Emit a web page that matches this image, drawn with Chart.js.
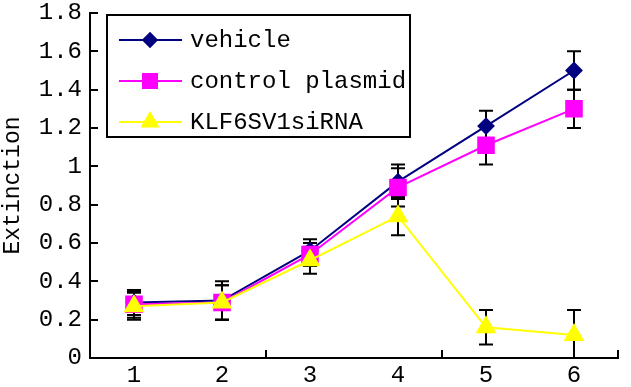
<!DOCTYPE html>
<html>
<head>
<meta charset="utf-8">
<script src="https://cdn.jsdelivr.net/npm/chart.js@4.4.1/dist/chart.umd.min.js"></script>
<style>
  html, body { margin: 0; padding: 0; background: #fff; }
  #wrap { width: 631px; height: 387px; }
</style>
</head>
<body>
<div id="wrap"><canvas id="chart"></canvas></div>
<script>
// ---- data ----
const days = ['1', '2', '3', '4', '5', '6'];

const vehicle    = [0.29, 0.30, 0.56, 0.92, 1.21, 1.50];
const vehicleErr = [0.065, 0.10, 0.06, 0.09, 0.08, 0.10];

const plasmid    = [0.28, 0.29, 0.54, 0.89, 1.11, 1.30];
const plasmidErr = [0.07, 0.09, 0.06, 0.10, 0.10, 0.10];

const sirna      = [0.27, 0.29, 0.51, 0.74, 0.16, 0.12];
const sirnaErr   = [0.07, 0.09, 0.07, 0.10, 0.09, 0.13];

const FONT = "'Liberation Mono', 'DejaVu Sans Mono', monospace";

// +/- error bars, drawn under the markers
const errorBars = {
  id: 'errorBars',
  beforeDatasetsDraw(chart) {
    const { ctx, chartArea, scales: { x, y } } = chart;
    ctx.save();
    ctx.strokeStyle = '#000';
    ctx.lineWidth = 2;
    chart.data.datasets.forEach(ds => {
      ds.errors.forEach((e, i) => {
        const px = x.getPixelForValue(i);
        const hi = ds.data[i] + e, lo = ds.data[i] - e;
        const top = Math.max(y.getPixelForValue(hi), chartArea.top);
        const bot = Math.min(y.getPixelForValue(lo), chartArea.bottom);
        ctx.beginPath();
        ctx.moveTo(px, top);
        ctx.lineTo(px, bot);
        ctx.moveTo(px - 7, top);
        ctx.lineTo(px + 7, top);
        if (lo > 0) {
          ctx.moveTo(px - 7, bot);
          ctx.lineTo(px + 7, bot);
        }
        ctx.stroke();
      });
    });
    ctx.restore();
  }
};

// inward tick marks like the original
const axisTicks = {
  id: 'axisTicks',
  afterDraw(chart) {
    const { ctx, chartArea, scales: { x, y } } = chart;
    ctx.save();
    ctx.strokeStyle = '#000';
    ctx.lineWidth = 2;
    ctx.beginPath();
    y.ticks.forEach(t => {
      const py = Math.round(y.getPixelForValue(t.value));
      ctx.moveTo(chartArea.left, py);
      ctx.lineTo(chartArea.left + 8, py);
    });
    [2, 4, 6].forEach(k => {
      const px = Math.round(x.getPixelForDecimal(k / 6));
      ctx.moveTo(px, chartArea.bottom);
      ctx.lineTo(px, chartArea.bottom - 8);
    });
    ctx.stroke();
    ctx.restore();
  }
};

// framed legend inside the plot, top left
const boxLegend = {
  id: 'boxLegend',
  afterDraw(chart) {
    const { ctx, chartArea } = chart;
    const bx = chartArea.left + 17, by = 15, bw = 303, bh = 122;
    ctx.save();
    ctx.fillStyle = '#fff';
    ctx.fillRect(bx, by, bw, bh);
    ctx.strokeStyle = '#000';
    ctx.lineWidth = 2;
    ctx.strokeRect(bx, by, bw, bh);
    ctx.font = '24px ' + FONT;
    ctx.textBaseline = 'middle';
    chart.data.datasets.forEach((ds, i) => {
      const cy = by + 25 + i * 41;
      ctx.strokeStyle = ds.borderColor;
      ctx.lineWidth = 2;
      ctx.beginPath();
      ctx.moveTo(bx + 12, cy);
      ctx.lineTo(bx + 75, cy);
      ctx.stroke();
      ctx.fillStyle = ds.pointBackgroundColor;
      ctx.strokeStyle = ds.pointBackgroundColor;
      Chart.helpers.drawPoint(ctx, {
        pointStyle: ds.pointStyle, radius: ds.pointRadius * 0.9, rotation: 0, borderWidth: 1
      }, bx + 43, cy);
      ctx.fillStyle = '#000';
      ctx.fillText(ds.label, bx + 83, cy + 1);
    });
    ctx.restore();
  }
};

new Chart(document.getElementById('chart'), {
  type: 'line',
  data: {
    labels: days,
    datasets: [
      {
        label: 'vehicle', data: vehicle, errors: vehicleErr,
        borderColor: '#000080', borderWidth: 2,
        pointStyle: 'rectRot', pointRadius: 7.5,
        pointBackgroundColor: '#000080', pointBorderColor: '#000080',
        order: 3
      },
      {
        label: 'control plasmid', data: plasmid, errors: plasmidErr,
        borderColor: '#ff00ff', borderWidth: 2,
        pointStyle: 'rect', pointRadius: 11,
        pointBackgroundColor: '#ff00ff', pointBorderColor: '#ff00ff',
        order: 2
      },
      {
        label: 'KLF6SV1siRNA', data: sirna, errors: sirnaErr,
        borderColor: '#ffff00', borderWidth: 2,
        pointStyle: 'triangle', pointRadius: 10,
        pointBackgroundColor: '#ffff00', pointBorderColor: '#ffff00',
        order: 1
      }
    ]
  },
  options: {
    responsive: true,
    maintainAspectRatio: false,
    animation: false,
    layout: { padding: { top: 0, right: 4, left: 0, bottom: 0 } },
    plugins: { legend: { display: false }, tooltip: { enabled: false } },
    scales: {
      x: {
        offset: true,
        grid: { display: false, drawTicks: false },
        border: { display: true, color: '#000', width: 2 },
        ticks: { color: '#000', font: { family: FONT, size: 24, lineHeight: 1 }, padding: 6, maxRotation: 0 },
        afterFit(s) { s.height = 29; }
      },
      y: {
        min: 0,
        max: 1.8,
        grid: { display: false, drawTicks: false },
        border: { display: true, color: '#000', width: 2 },
        ticks: {
          stepSize: 0.2, color: '#000', padding: 8,
          font: { family: FONT, size: 24, lineHeight: 1.08 },
          callback: v => String(Number(v.toFixed(1)))
        },
        title: {
          display: true, text: 'Extinction', color: '#000',
          font: { family: FONT, size: 23, lineHeight: 1 }, padding: { top: 1, bottom: 0 }
        },
        afterFit(s) { s.width = 90; s.paddingTop = 13; s.paddingBottom = 0; }
      }
    }
  },
  plugins: [errorBars, axisTicks, boxLegend]
});
</script>
</body>
</html>
